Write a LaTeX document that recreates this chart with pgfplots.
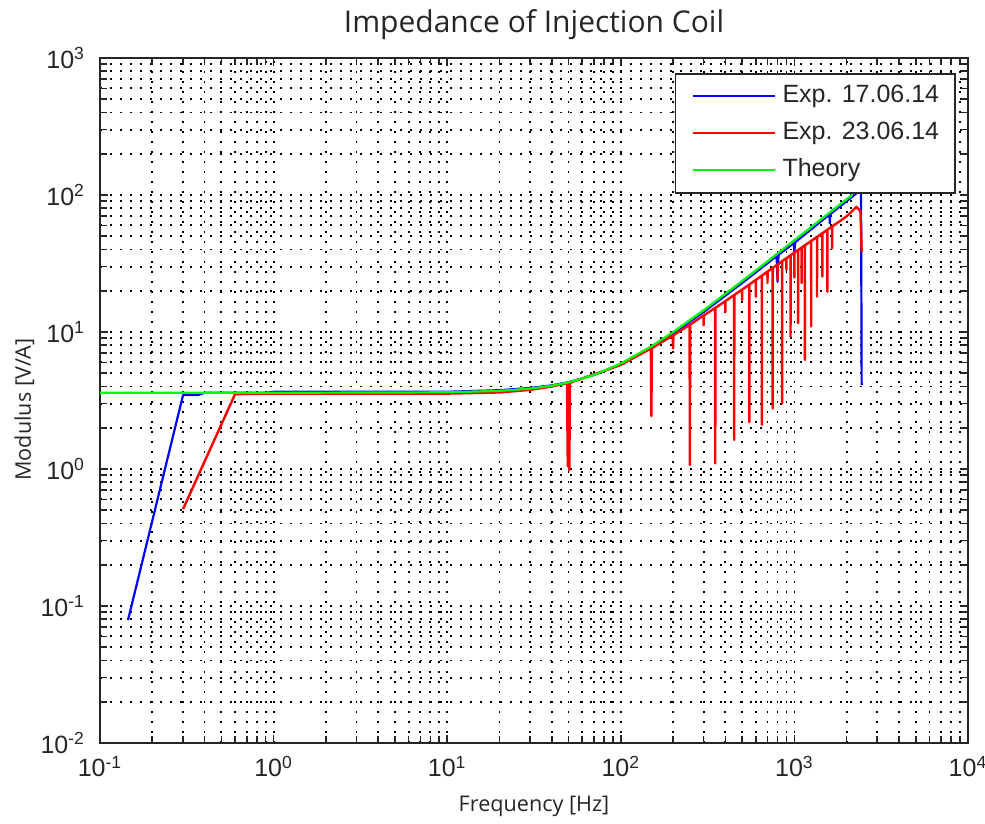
\documentclass[border=0pt]{standalone}
\usepackage{fontspec}
\setmainfont{Liberation Sans}
\newfontfamily\labelfont{Open Sans}
\usepackage{pgfplots}
\pgfplotsset{compat=1.18}
\definecolor{mblue}{rgb}{0,0,1}
\definecolor{mred}{rgb}{1,0,0}
\definecolor{mgreen}{rgb}{0,1,0}
\begin{document}
\begin{tikzpicture}
\path[use as bounding box] (0,0) rectangle (492.5pt,412pt);
\begin{axis}[
  at={(50pt,40.5pt)}, anchor=south west,
  scale only axis, width=434pt, height=342.5pt,
  xmode=log, ymode=log,
  xmin=0.1, xmax=10000, ymin=0.01, ymax=1000,
  xtick={0.1,1,10,100,1000,10000},
  xticklabels={10\textsuperscript{-1},10\textsuperscript{0},10\textsuperscript{1},10\textsuperscript{2},10\textsuperscript{3},10\textsuperscript{4}},
  minor xtick={0.2,0.3,0.4,0.5,0.6,0.7,0.8,0.9,2,3,4,5,6,7,8,9,20,30,40,50,60,70,80,90,200,300,400,500,600,700,800,900,2000,3000,4000,5000,6000,7000,8000,9000},
  ytick={0.01,0.1,1,10,100,1000},
  yticklabels={10\textsuperscript{-2},10\textsuperscript{-1},10\textsuperscript{0},10\textsuperscript{1},10\textsuperscript{2},10\textsuperscript{3}},
  minor ytick={0.02,0.03,0.04,0.05,0.06,0.07,0.08,0.09,0.2,0.3,0.4,0.5,0.6,0.7,0.8,0.9,2,3,4,5,6,7,8,9,20,30,40,50,60,70,80,90,200,300,400,500,600,700,800,900},
  tick pos=both, tick align=inside,
  major tick length=4pt, minor tick length=3.5pt,
  every tick/.style={black!85, line width=0.8pt},
  axis line style={black!85, line width=0.9pt},
  grid=both,
  major grid style={black, line width=0.9pt, dash pattern=on 0.9pt off 4.1pt},
  minor grid style={black, line width=0.9pt, dash pattern=on 0.9pt off 4.1pt},
  ticklabel style={font=\fontsize{12.5}{14}\selectfont, text=black!85},
  xticklabel style={yshift=-3pt},
  yticklabel style={xshift=-4pt},
  title={Impedance of Injection Coil},
  title style={font=\labelfont\fontsize{15}{18}\selectfont, text=black!85, at={(axis description cs:0.5,1)}, anchor=base, yshift=6.5pt},
  xlabel={Frequency [Hz]},
  xlabel style={font=\labelfont\fontsize{10.8}{13}\selectfont, text=black!85, at={(axis description cs:0.5,0)}, anchor=base, yshift=-34pt},
  ylabel={Modulus [V/A]},
  ylabel style={font=\labelfont\fontsize{10.8}{13}\selectfont, text=black!85, at={(axis description cs:-0.0795,0.487)}, anchor=base},
  legend style={at={(axis description cs:1,1)}, anchor=north east, xshift=-6pt, yshift=-7.5pt,
    draw=black!85, line width=0.9pt, fill=white, inner xsep=8pt, inner ysep=5pt,
    row sep=6pt, column sep=3.5pt,
    font=\fontsize{12.5}{14}\selectfont,
    nodes={inner sep=0pt, text height=9.5pt, text depth=3pt, text=black!85}},
  legend cell align=left,
  legend image code/.code={\draw[#1, line width=1pt] (0pt,0pt) -- (41pt,0pt);},
]
\addplot[mblue, line width=1.1pt, line join=round] coordinates {
(0.145,0.079) (0.301,3.47) (0.367,3.47) (0.4,3.6) (0.9,3.6) (1,3.66) (10,3.66) (15,3.72) (20,3.76) (30,3.9) (40,4.08) (50,4.3) (70,4.85) (100,5.8) (150,7.7) (200,9.75) (300,14.0) (500,22.8) (700,31.8) (790,35.8) (800,23.3) (810,36.6) (990,44.5) (1000,38.6) (1010,45.2) (1500,67.8) (1590,71.8) (1600,62) (1610,72.6) (2000,90.2) (2280,103) (2420,118) (2440,4.1)
};
\addlegendentry{Exp. 17.06.14}
\addplot[mred, line width=1.2pt, line join=round] coordinates {
(0.301,0.51) (0.6,3.52) (1,3.55) (10,3.55) (20,3.62) (30,3.78) (40,4.0) (49,4.22) (49.5,1.05) (50,4.25) (50.5,0.98) (51,4.26) (100,5.75)
(149,7.58) (150,2.44) (151,7.62) (199,9.42) (200,7.6) (201,9.48) (249,11.28) (250,1.07) (251,11.32)
(299,13.18) (300,11.2) (301,13.22) (349,14.98) (350,1.1) (351,15.02) (399,16.78) (400,14) (401,16.82)
(449,18.58) (450,1.63) (451,18.62) (499,20.38) (500,17.1) (501,20.42) (549,22.18) (550,2.2) (551,22.22)
(599,24) (600,18.1) (601,24) (649,25.8) (650,2.1) (651,25.8) (699,27.6) (700,22.8) (701,27.6)
(749,29.4) (750,2.77) (751,29.4) (799,31.1) (800,24) (801,31.1) (849,32.9) (850,3.0) (851,32.9)
(899,34.6) (900,28.4) (901,34.6) (949,36.3) (950,9.25) (951,36.3) (999,38) (1000,25) (1001,38)
(1049,39.6) (1050,11.6) (1051,39.6) (1099,41.3) (1100,22.8) (1101,41.3) (1149,43) (1150,6.25) (1151,43)
(1249,46.2) (1250,11) (1251,46.2) (1349,49.4) (1350,18.1) (1351,49.4) (1449,52.6) (1450,25.4) (1451,52.6)
(1549,55.8) (1550,19.7) (1551,55.8) (1649,59) (1650,40.8) (1651,59) (1750,62) (1900,66.7) (2000,70)
(2100,74) (2200,78.5) (2280,82) (2400,76) (2440,38.5)
};
\addlegendentry{Exp. 23.06.14}
\addplot[mgreen, line width=1.1pt, line join=round] coordinates {
(0.1,3.6) (1,3.6) (10,3.63) (20,3.718) (30,3.861) (40,4.053) (50,4.287) (70,4.856) (100,5.886) (150,7.857) (200,9.984) (300,14.42) (500,23.56) (700,32.79) (1000,46.70) (1500,69.93) (2000,93.19) (2150,100.17)
};
\addlegendentry{Theory}
\end{axis}
\end{tikzpicture}
\end{document}
